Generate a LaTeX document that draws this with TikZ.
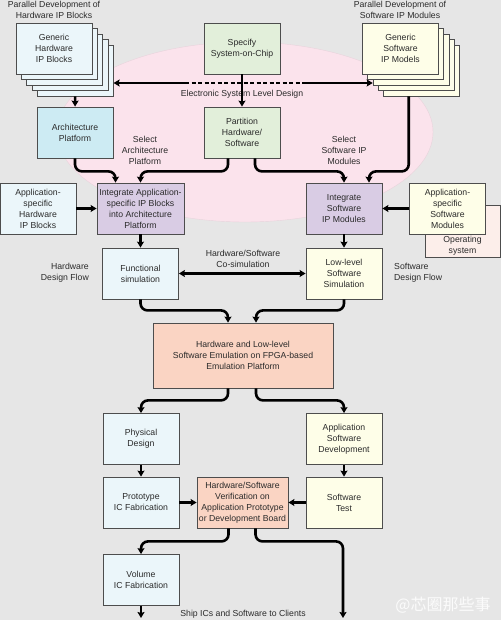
\documentclass[tikz,border=0pt]{standalone}
\usepackage{fontspec}
\setmainfont{Liberation Sans}
\newfontfamily\cjkfont{Noto Sans CJK SC}
\usepackage{xcolor}
\usepackage{tikz}
\usetikzlibrary{positioning,calc,arrows.meta}
\definecolor{bgray}{HTML}{E6E6E6}
\definecolor{eslpink}{HTML}{FBE3EC}
\definecolor{boxline}{HTML}{4D4D4D}
\definecolor{txtdark}{HTML}{2B2B2B}
\definecolor{hwwhite}{HTML}{EBF6FA}
\definecolor{hwblue}{HTML}{CDEBF3}
\definecolor{specgreen}{HTML}{E2EFDA}
\definecolor{swyellow}{HTML}{FEFEE8}
\definecolor{intpurple}{HTML}{D9CCE4}
\definecolor{emupeach}{HTML}{FAD4C3}
\definecolor{ospink}{HTML}{FCEEEA}

\begin{document}
\begin{tikzpicture}[x=1pt, y=-1pt,
  font=\fontsize{8.7}{11}\selectfont,
  every node/.style={text=txtdark},
  box/.style={draw=boxline, line width=0.8pt, minimum width=76pt, minimum height=51pt, align=center, inner sep=1pt},
  flow/.style={line width=2.6pt, rounded corners=7pt, -{Stealth[length=6pt,width=7pt,inset=1pt]}},
  lbl/.style={align=center, inner sep=0pt},
]
\fill[bgray] (0,0) rectangle (501,620);
\useasboundingbox (0,0) rectangle (501,620);
% ESL region
\draw[fill=eslpink, draw=eslpink!85!gray, line width=0.4pt] (245,132) ellipse [x radius=188, y radius=90];

% top row: stacked IP libraries
\node[lbl] (hwPar) at (54,9.5) {Parallel Development of\\Hardware IP Blocks};
\node[lbl] (swPar) at (400,9.5) {Parallel Development of\\Software IP Modules};
\foreach \k in {4,3,2,1} {
  \node[box, fill=hwwhite] (genHW\k) at ({54+5.3*\k},{48.5+5.5*\k}) {};
  \node[box, fill=swyellow] (genSW\k) at ({400.5+5.3*\k},{48.5+5.5*\k}) {};
}
\node[box, fill=hwwhite] (genHW) at (54,48.5) {Generic\\Hardware\\IP Blocks};
\node[box, fill=swyellow] (genSW) at (400.5,48.5) {Generic\\Software\\IP Models};
\node[box, fill=specgreen] (spec) at (242,48.5) {Specify\\System-on-Chip};

% electronic system level design
\coordinate (eslL) at (185,83);
\coordinate (eslR) at (303,83);
\draw[flow, rounded corners=0pt, -] (eslL) -- (eslR) [dash pattern=on 4pt off 2.5pt];
\draw[flow, rounded corners=0pt] (eslL) -- (eslL -| genHW4.east);
\draw[flow, rounded corners=0pt] (eslR) -- (eslR -| genSW2.west);
\node[lbl] (eslTxt) at (242,94) {Electronic System Level Design};

\node[box, fill=hwblue] (arch) at (75,132.5) {Architecture\\Platform};
\node[box, fill=specgreen] (part) at (242,132.5) {Partition\\Hardware/\\Software};
\node[lbl] (selArch) at (145,150) {Select\\Architecture\\Platform};
\node[lbl] (selSW) at (344,150) {Select\\Software IP\\Modules};

% integration row
\node[box, fill=hwwhite] (appHW) at (38,208.5) {Application-\\specific\\Hardware\\IP Blocks};
\node[box, fill=intpurple, minimum width=87pt] (intHW) at (140.5,208.5) {Integrate Application-\\specific IP Blocks\\into Architecture\\Platform};
\node[box, fill=intpurple] (intSW) at (344,208.5) {Integrate\\Software\\IP Modules};
\node[box, fill=ospink, minimum width=75pt, minimum height=52pt,
  label={[lbl, anchor=south, yshift=2pt]south:Operating\\system}] (os) at (462.5,231) {};
\node[box, fill=swyellow] (appSW) at (447.5,208.5) {Application-\\specific\\Software\\Modules};

% simulation row
\node[box, fill=hwwhite] (func) at (140.5,273.5) {Functional\\simulation};
\node[box, fill=swyellow] (low) at (344,273.5) {Low-level\\Software\\Simulation};
\node[lbl] (cosim) at (243,258.5) {Hardware/Software\\Co-simulation};
\node[lbl, align=right, anchor=east] (hwFlow) at (89,273) {Hardware\\Design Flow};
\node[lbl, align=left, anchor=west] (swFlow) at (394,273) {Software\\Design Flow};

\node[box, fill=emupeach, minimum width=180pt, minimum height=65pt] (emu) at (243,355.5) {Hardware and Low-level\\Software Emulation on FPGA-based\\Emulation Platform};

\node[box, fill=hwwhite] (phys) at (141,439) {Physical\\Design};
\node[box, fill=swyellow] (appDev) at (344,439) {Application\\Software\\Development};
\node[box, fill=hwwhite] (proto) at (141,502.5) {Prototype\\IC Fabrication};
\node[box, fill=emupeach, minimum width=91pt] (verif) at (242.5,502.5) {Hardware/Software\\Verification on\\Application Prototype\\or Development Board};
\node[box, fill=swyellow] (swTest) at (344,502.5) {Software\\Test};
\node[box, fill=hwwhite] (vol) at (141,580) {Volume\\IC Fabrication};
\node[lbl] (ship) at (243,614) {Ship ICs and Software to Clients};
\coordinate (shipHW) at (141,618);
\coordinate (shipSW) at (343,618);

% connectors
\draw[flow] (spec) -- (part);
\draw[flow] (genHW4) -- (arch);
\draw[flow] (arch.south) -- ++(0,13) -| ([xshift=-25pt]intHW.north);
\draw[flow] ([xshift=-14pt]part.south) -- ++(0,13) -| (intHW.north);
\draw[flow] ([xshift=13pt]part.south) -- ++(0,13) -| (intSW.north);
\draw[flow] ([xshift=-13pt]genSW4.south) -- ++(0,75) -| ([xshift=25pt]intSW.north);
\draw[flow] (appHW) -- (intHW);
\draw[flow] (appSW) -- (intSW);
\draw[flow] (intHW) -- (func);
\draw[flow] (intSW) -- (low);
\draw[flow, {Stealth[length=6pt,width=7pt,inset=1pt]}-{Stealth[length=6pt,width=7pt,inset=1pt]}] (func.east) -- (low.west);
\draw[flow] (func.south) -- ++(0,11) -| ([xshift=-15pt]emu.north);
\draw[flow] (low.south) -- ++(0,11) -| ([xshift=13pt]emu.north);
\draw[flow] ([xshift=-15pt]emu.south) -- ++(0,12) -| (phys.north);
\draw[flow] ([xshift=13pt]emu.south) -- ++(0,12) -| (appDev.north);
\draw[flow] (phys) -- (proto);
\draw[flow] (appDev) -- (swTest);
\draw[flow] (proto) -- (verif);
\draw[flow] (swTest) -- (verif);
\draw[flow] ([xshift=-14pt]verif.south) -- ++(0,13) -| (vol.north);
\draw[flow] ([xshift=13pt]verif.south) -- ++(0,13) -| (shipSW);
\draw[flow] (vol) -- (shipHW);

\node[text=white, opacity=0.85, font=\cjkfont\fontsize{16}{16}\selectfont] (wmark) at (443,605) {@芯圈那些事};
\end{tikzpicture}
\end{document}
